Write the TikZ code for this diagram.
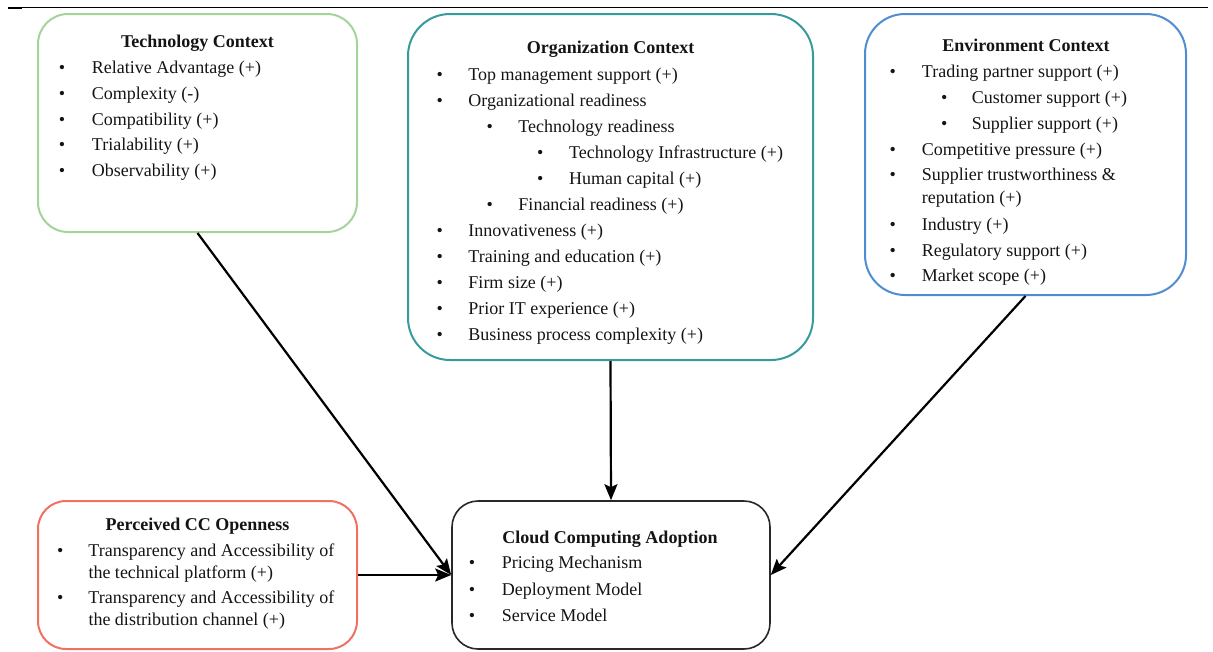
\documentclass[tikz,border=0pt]{standalone}
\usepackage{fontspec}
\setmainfont{Liberation Serif}
\usetikzlibrary{arrows.meta}

\definecolor{techgreen}{RGB}{165,212,155}
\definecolor{orgteal}{RGB}{55,155,155}
\definecolor{envblue}{RGB}{80,140,210}
\definecolor{openred}{RGB}{240,112,98}
\definecolor{adoptgray}{RGB}{40,40,40}
\definecolor{inkgray}{RGB}{20,20,20}

\tikzset{
  panel/.style={draw, line width=2pt, inner sep=0pt},
  heading/.style={font=\fontsize{18}{22}\selectfont\bfseries, text=inkgray, anchor=base, inner sep=0pt},
  entry/.style={font=\fontsize{18}{22}\selectfont, text=inkgray, anchor=base west, inner sep=0pt},
  link/.style={line width=2.2pt, -{Stealth[length=16pt,width=13pt,inset=3pt]}},
}

% bulleted line: name, bullet x, text x, baseline y, text
\newcommand\bulletrow[5]{%
  \node[entry] (#1) at (#2-3,#4)
    {\makebox[\dimexpr #3pt-#2pt+3pt\relax][l]{\textbullet}#5};}
% continuation line without bullet: name, x, baseline y, text
\newcommand\plainrow[4]{\node[entry] (#1) at (#2,#3) {#4};}

\begin{document}
\begin{tikzpicture}[x=1pt, y=-1pt]
\useasboundingbox (0,0) rectangle (1213,651);

% table rule along the top
\coordinate (ruleL) at (8,7.5);
\coordinate (ruleM) at (22,7.5);
\coordinate (ruleR) at (1208,7.5);
\draw[line width=2pt] (ruleL) -- (ruleM);
\draw[line width=1.2pt] (ruleM) -- (ruleR);

% panels
\node[panel, draw=techgreen, rounded corners=30pt, minimum width=319pt, minimum height=218pt] (tech) at (197.5,123) {};
\node[panel, draw=orgteal, rounded corners=42pt, minimum width=405pt, minimum height=346pt] (org) at (610.5,187) {};
\node[panel, draw=envblue, rounded corners=40pt, minimum width=321pt, minimum height=281pt] (env) at (1025.5,154.5) {};
\node[panel, draw=openred, rounded corners=28pt, minimum width=319pt, minimum height=148pt] (open) at (197.5,575) {};
\node[panel, draw=adoptgray, line width=1.6pt, rounded corners=26pt, minimum width=318pt, minimum height=148pt] (adopt) at (611,575) {};

% Technology context
\node[heading] (techT) at (197.5,47) {Technology Context};
\bulletrow{tech1}{61.7}{91.7}{73.5}{Relative Advantage (+)}
\bulletrow{tech2}{61.7}{91.7}{99.3}{Complexity (-)}
\bulletrow{tech3}{61.7}{91.7}{125.1}{Compatibility (+)}
\bulletrow{tech4}{61.7}{91.7}{150.9}{Trialability (+)}
\bulletrow{tech5}{61.7}{91.7}{176.7}{Observability (+)}

% Organization context
\node[heading] (orgT) at (610.5,53) {Organization Context};
\bulletrow{org1}{439.3}{468.3}{80}{Top management support (+)}
\bulletrow{org2}{439.3}{468.3}{106}{Organizational readiness}
\bulletrow{org3}{489.3}{518.3}{132}{Technology readiness}
\bulletrow{org4}{540}{569}{158}{Technology Infrastructure (+)}
\bulletrow{org5}{540}{569}{184}{Human capital (+)}
\bulletrow{org6}{489.3}{518.3}{210}{Financial readiness (+)}
\bulletrow{org7}{439.3}{468.3}{236}{Innovativeness (+)}
\bulletrow{org8}{439.3}{468.3}{262}{Training and education (+)}
\bulletrow{org9}{439.3}{468.3}{288}{Firm size (+)}
\bulletrow{org10}{439.3}{468.3}{314}{Prior IT experience (+)}
\bulletrow{org11}{439.3}{468.3}{340}{Business process complexity (+)}

% Environment context
\node[heading] (envT) at (1026,51) {Environment Context};
\bulletrow{env1}{892.3}{921.7}{77.3}{Trading partner support (+)}
\bulletrow{env2}{944}{971.7}{103.3}{Customer support (+)}
\bulletrow{env3}{944}{971.7}{129.3}{Supplier support (+)}
\bulletrow{env4}{892.3}{921.7}{155}{Competitive pressure (+)}
\bulletrow{env5}{892.3}{921.7}{180.5}{Supplier trustworthiness \&}
\plainrow{env5b}{921.7}{203.5}{reputation (+)}
\bulletrow{env6}{892.3}{921.7}{230}{Industry (+)}
\bulletrow{env7}{892.3}{921.7}{256}{Regulatory support (+)}
\bulletrow{env8}{892.3}{921.7}{281.7}{Market scope (+)}

% Perceived openness
\node[heading] (openT) at (197.5,530) {Perceived CC Openness};
\bulletrow{open1}{60}{88.3}{556.7}{Transparency and Accessibility of}
\plainrow{open1b}{88.3}{578}{the technical platform (+)}
\bulletrow{open2}{60}{88.3}{603.3}{Transparency and Accessibility of}
\plainrow{open2b}{88.3}{625}{the distribution channel (+)}

% Cloud computing adoption
\node[heading] (adoptT) at (610,543) {Cloud Computing Adoption};
\bulletrow{adopt1}{471.7}{501.7}{568.5}{Pricing Mechanism}
\bulletrow{adopt2}{471.7}{501.7}{595}{Deployment Model}
\bulletrow{adopt3}{471.7}{501.7}{621}{Service Model}

% influences on adoption
\draw[link] (tech.south) -- (adopt.west);
\draw[link] (open.east) -- (adopt.west);
\draw[link] (org.south) -- (adopt.north);
\draw[link] (env.south) -- (adopt.east);
\end{tikzpicture}
\end{document}
